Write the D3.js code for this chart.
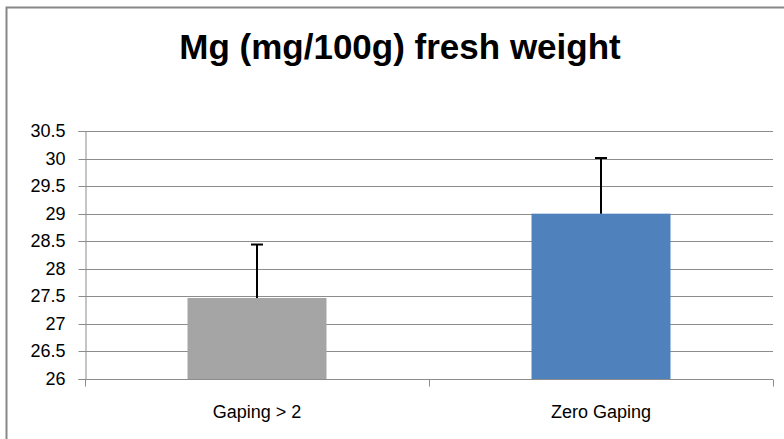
<!DOCTYPE html>
<html><head><meta charset="utf-8">
<script src="https://cdn.jsdelivr.net/npm/d3@7"></script>
<style>body{margin:0;background:#fff}svg{display:block}</style>
</head><body>
<script>
const title = "Mg (mg/100g) fresh weight";
const categories = ["Gaping > 2", "Zero Gaping"];
const values = [27.47, 29.0];
const errors = [0.97, 1.01];
const colors = ["#A5A5A5", "#4F81BD"];
const yTicks = [26, 26.5, 27, 27.5, 28, 28.5, 29, 29.5, 30, 30.5];

const W = 784, H = 439;
const m = {left: 85, right: 11, top: 131, bottom: 60};
const svg = d3.select("body").append("svg").attr("width", W).attr("height", H);
const font = "'Liberation Sans', Arial, sans-serif";

svg.append("rect").attr("x", 6.5).attr("y", 7.5).attr("width", W + 10).attr("height", H + 10)
  .attr("fill", "#fff").attr("stroke", "#878787").attr("stroke-width", 2);

const x = d3.scaleBand().domain(categories).range([m.left, W - m.right])
  .paddingInner(0.596).paddingOuter(0.298);
const xAxisScale = d3.scaleBand().domain(categories).range([m.left, W - m.right]);
const y = d3.scaleLinear().domain([26, 30.5]).range([H - m.bottom, m.top]);

// gridlines
svg.append("g").selectAll("line").data(yTicks).join("line")
  .attr("x1", m.left).attr("x2", W - m.right)
  .attr("y1", d => Math.round(y(d)) + 0.5).attr("y2", d => Math.round(y(d)) + 0.5)
  .attr("stroke", "#8c8c8c").attr("stroke-width", 1);

// y axis
const yAxis = svg.append("g").attr("transform", `translate(${m.left + 0.5},0)`)
  .call(d3.axisLeft(y).tickValues(yTicks).tickSize(7).tickPadding(13).tickFormat(d3.format("")));
yAxis.select(".domain").attr("stroke", "#8c8c8c");
yAxis.selectAll(".tick line").attr("stroke", "#8c8c8c");
yAxis.selectAll(".tick").attr("transform", d => `translate(0,${Math.round(y(d)) + 0.5})`);
yAxis.selectAll("text").attr("font-family", font).attr("font-size", 18).attr("fill", "#000");

// bars
svg.append("g").selectAll("rect").data(categories).join("rect")
  .attr("x", d => x(d)).attr("width", x.bandwidth())
  .attr("y", (d, i) => y(values[i])).attr("height", (d, i) => y(26) - y(values[i]))
  .attr("fill", (d, i) => colors[i]);

// error bars
const eb = svg.append("g").selectAll("g").data(categories).join("g");
eb.append("line")
  .attr("x1", d => x(d) + x.bandwidth() / 2).attr("x2", d => x(d) + x.bandwidth() / 2)
  .attr("y1", (d, i) => y(values[i])).attr("y2", (d, i) => y(values[i] + errors[i]))
  .attr("stroke", "#000").attr("stroke-width", 2);
eb.append("line")
  .attr("x1", d => x(d) + x.bandwidth() / 2 - 6).attr("x2", d => x(d) + x.bandwidth() / 2 + 6)
  .attr("y1", (d, i) => y(values[i] + errors[i])).attr("y2", (d, i) => y(values[i] + errors[i]))
  .attr("stroke", "#000").attr("stroke-width", 2);

// x axis
const xa = svg.append("g").attr("transform", `translate(0,${Math.round(y(26)) + 0.5})`);
xa.append("line").attr("x1", m.left).attr("x2", W - m.right).attr("stroke", "#8c8c8c");
const bounds = [m.left, ...categories.map(c => xAxisScale(c) + xAxisScale.bandwidth())];
xa.selectAll("line.t").data(bounds).join("line").attr("class", "t")
  .attr("x1", d => Math.round(d) + 0.5).attr("x2", d => Math.round(d) + 0.5)
  .attr("y1", 0).attr("y2", 7).attr("stroke", "#8c8c8c");
xa.selectAll("text").data(categories).join("text")
  .attr("x", d => xAxisScale(d) + xAxisScale.bandwidth() / 2).attr("y", 38)
  .attr("text-anchor", "middle").attr("font-family", font).attr("font-size", 18)
  .attr("fill", "#000").text(d => d);

// title
svg.append("text").attr("x", 400).attr("y", 59).attr("text-anchor", "middle")
  .attr("font-family", font).attr("font-weight", "bold").attr("font-size", 35)
  .attr("fill", "#000").text(title);
</script>
</body></html>
